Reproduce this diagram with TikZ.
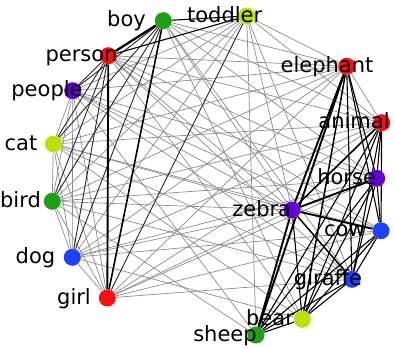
\documentclass[tikz,border=0pt]{standalone}
\usepackage{fontspec}
\setmainfont{DejaVu Sans}
\usetikzlibrary{backgrounds}
\definecolor{cred}{RGB}{255,12,12}
\definecolor{cgreen}{RGB}{28,160,20}
\definecolor{clime}{RGB}{190,224,0}
\definecolor{cpurple}{RGB}{100,0,210}
\definecolor{cblue}{RGB}{30,64,255}
\tikzset{
  dot/.style={circle,inner sep=0pt,minimum size=17pt,draw=none},
  lab/.style={anchor=base,inner sep=0pt,font=\fontsize{21}{24}\selectfont},
  wthin/.style={draw=black!45,line width=0.7pt},
  wmed/.style={draw=black!85,line width=0.9pt},
  wdark/.style={draw=black,line width=1.1pt},
  wthick/.style={draw=black,line width=1.9pt},
}
\begin{document}
\begin{tikzpicture}[x=1pt,y=-1pt]
\useasboundingbox (0,0) rectangle (395,348);
% nodes
\node[dot,fill=cgreen]  (boy)      at (163.3,20.7) {};
\node[dot,fill=clime]   (toddler)  at (246.7,16) {};
\node[dot,fill=cred]    (person)   at (108.3,55.7) {};
\node[dot,fill=cred]    (elephant) at (346.7,66.3) {};
\node[dot,fill=cpurple] (people)   at (72.7,90.7) {};
\node[dot,fill=cred]    (animal)   at (381.7,122.7) {};
\node[dot,fill=clime]   (cat)      at (53.3,144) {};
\node[dot,fill=cpurple] (horse)    at (376.7,178.3) {};
\node[dot,fill=cgreen]  (bird)     at (52.3,201.3) {};
\node[dot,fill=cpurple] (zebra)    at (292,210) {};
\node[dot,fill=cblue]   (cow)      at (381,230.7) {};
\node[dot,fill=cblue]   (dog)      at (72.3,257.3) {};
\node[dot,fill=cblue]   (giraffe)  at (352,279.3) {};
\node[dot,fill=cred]    (girl)     at (107.3,298) {};
\node[dot,fill=clime]   (bear)     at (302.3,319.3) {};
\node[dot,fill=cgreen]  (sheep)    at (256,335) {};
% labels
\node[lab] (lboy)      at (126.5,26.7) {boy};
\node[lab] (ltoddler)  at (224.7,22) {toddler};
\node[lab] (lperson)   at (81.5,61.7) {person};
\node[lab] (lelephant) at (327,72.3) {elephant};
\node[lab] (lpeople)   at (47,96.7) {people};
\node[lab] (lanimal)   at (354,128.7) {animal};
\node[lab] (lcat)      at (21,150) {cat};
\node[lab] (lhorse)    at (346.6,184.3) {horse};
\node[lab] (lbird)     at (20.5,207.3) {bird};
\node[lab] (lzebra)    at (261.7,216) {zebra};
\node[lab] (lcow)      at (344.8,236.7) {cow};
\node[lab] (ldog)      at (35.5,263.3) {dog};
\node[lab] (lgiraffe)  at (328,285.3) {giraffe};
\node[lab] (lgirl)     at (74,304) {girl};
\node[lab] (lbear)     at (270,325.3) {bear};
\node[lab] (lsheep)    at (225,341) {sheep};
\begin{pgfonlayer}{background}
% cross-cluster light edges
\foreach \a/\b in {boy/elephant,boy/animal,boy/horse,boy/zebra,boy/giraffe,boy/bear,
  toddler/elephant,toddler/animal,toddler/zebra,toddler/giraffe,toddler/sheep,
  person/elephant,person/animal,person/horse,person/zebra,person/cow,person/giraffe,person/bear,
  people/elephant,people/horse,people/zebra,people/cow,people/giraffe,people/sheep,
  cat/elephant,cat/animal,cat/zebra,cat/cow,cat/giraffe,cat/bear,
  bird/elephant,bird/animal,bird/horse,bird/zebra,bird/giraffe,bird/sheep,
  dog/elephant,dog/animal,dog/horse,dog/zebra,dog/cow,dog/bear,
  girl/elephant,girl/animal,girl/horse,girl/cow,girl/giraffe,girl/zebra,
  people/cat,people/bird,people/dog,people/girl,cat/bird,cat/dog,cat/girl,
  bird/dog,bird/girl,dog/girl,toddler/people,toddler/cat,toddler/bird,toddler/dog,
  elephant/animal}
  \draw[wthin] (\a) -- (\b);
% medium edges
\foreach \a/\b in {toddler/girl,boy/people,boy/cat,boy/bird,boy/dog,
  person/people,person/cat,person/bird,person/dog}
  \draw[wmed] (\a) -- (\b);
% dark edges
\foreach \a/\b in {boy/toddler,person/toddler,
  elephant/giraffe,elephant/cow,elephant/horse,animal/horse,animal/cow,animal/giraffe,
  animal/bear,animal/sheep,horse/cow,horse/giraffe,horse/sheep,horse/bear,
  cow/giraffe,cow/sheep,cow/bear,giraffe/sheep,giraffe/bear,bear/sheep,zebra/bear}
  \draw[wdark] (\a) -- (\b);
% thick edges
\draw[wthick,line width=2.3pt] (boy) -- (person);
\draw[wthick] (person) -- (girl);
\draw[wthick,line width=1.6pt] (boy) -- (girl);
\draw[wthick] (elephant) -- (zebra);
\draw[wthick] (elephant) -- (sheep);
\draw[wthick,line width=1.5pt] (elephant) -- (bear);
\draw[wthick] (zebra) -- (sheep);
\draw[wthick] (zebra) -- (horse);
\draw[wthick] (zebra) -- (cow);
\draw[wthick,line width=1.6pt] (animal) -- (zebra);
\draw[wthick,line width=1.5pt] (zebra) -- (giraffe);
\end{pgfonlayer}
\end{tikzpicture}
\end{document}
